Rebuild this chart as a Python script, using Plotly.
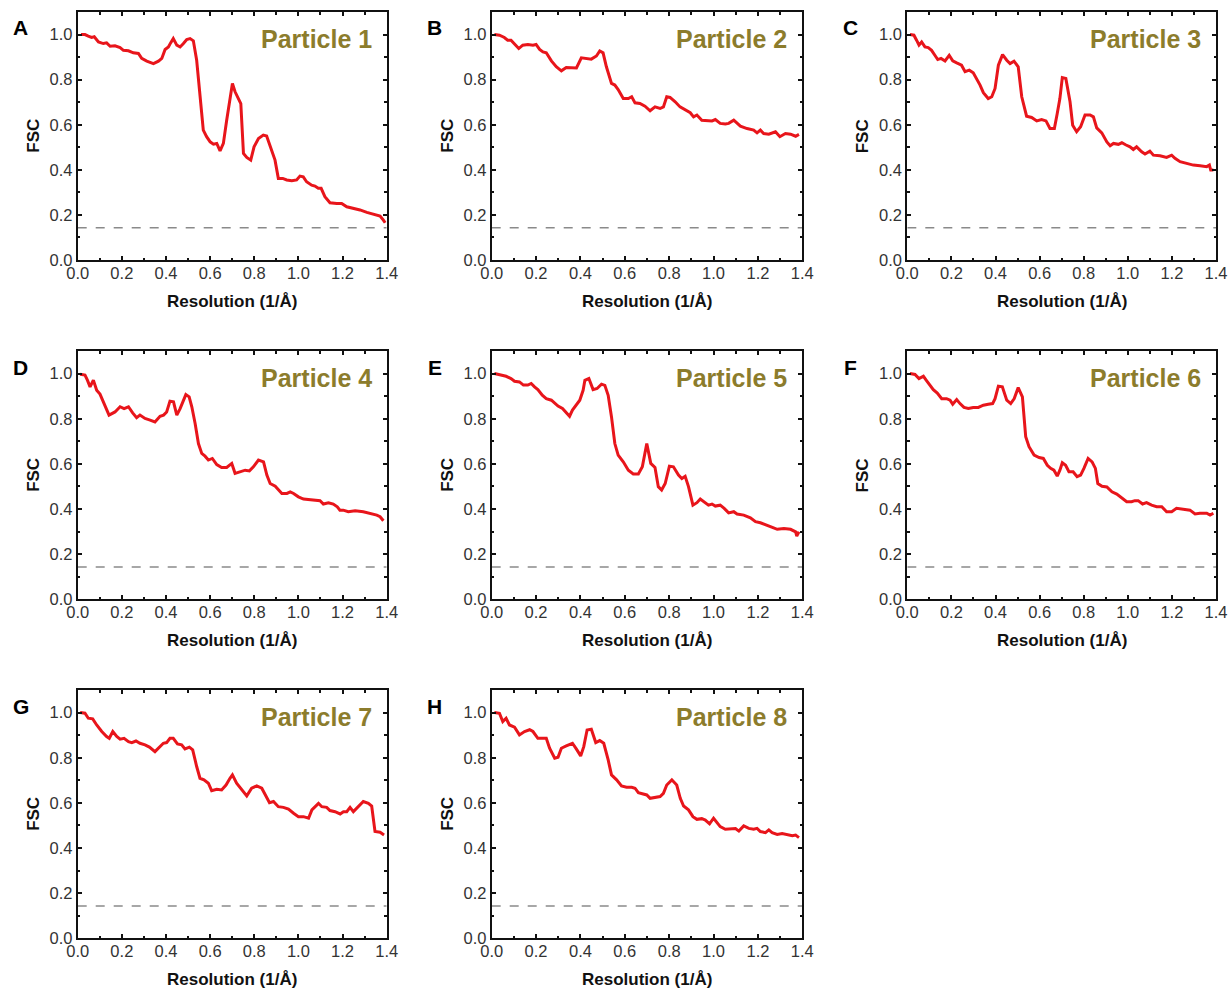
import plotly.graph_objects as go

W, H = 1230, 989

panel_letters = ["A", "B", "C", "D", "E", "F", "G", "H"]
panel_titles = ["Particle 1", "Particle 2", "Particle 3", "Particle 4",
                "Particle 5", "Particle 6", "Particle 7", "Particle 8"]
threshold = 0.143
x_ticks = [0.0, 0.2, 0.4, 0.6, 0.8, 1.0, 1.2, 1.4]
y_ticks = [0.0, 0.2, 0.4, 0.6, 0.8, 1.0]

p1_x = [0.015, 0.033, 0.048, 0.063, 0.075, 0.094, 0.116, 0.131, 0.147, 0.169, 0.192, 0.207, 0.23, 0.252, 0.275, 0.29, 0.313, 0.343, 0.366, 0.381, 0.396, 0.411, 0.421, 0.433, 0.449, 0.464, 0.479, 0.494, 0.509, 0.524, 0.539, 0.554, 0.569, 0.584, 0.6, 0.615, 0.63, 0.645, 0.66, 0.675, 0.69, 0.701, 0.713, 0.728, 0.739, 0.751, 0.766, 0.784, 0.799, 0.819, 0.841, 0.856, 0.874, 0.894, 0.909, 0.929, 0.947, 0.97, 0.992, 1.007, 1.022, 1.037, 1.06, 1.075, 1.09, 1.103, 1.12, 1.143, 1.174, 1.196, 1.219, 1.249, 1.279, 1.31, 1.34, 1.37, 1.385, 1.393]
p1_y = [1.0, 1.0, 0.993, 0.987, 0.99, 0.967, 0.96, 0.963, 0.948, 0.95, 0.942, 0.93, 0.928, 0.919, 0.916, 0.894, 0.882, 0.871, 0.882, 0.894, 0.934, 0.945, 0.963, 0.982, 0.953, 0.945, 0.96, 0.978, 0.982, 0.972, 0.886, 0.739, 0.576, 0.547, 0.524, 0.514, 0.517, 0.484, 0.517, 0.62, 0.709, 0.783, 0.746, 0.716, 0.694, 0.473, 0.455, 0.443, 0.502, 0.539, 0.554, 0.55, 0.502, 0.443, 0.362, 0.362, 0.355, 0.352, 0.355, 0.372, 0.369, 0.347, 0.332, 0.328, 0.318, 0.318, 0.281, 0.254, 0.251, 0.251, 0.236, 0.229, 0.222, 0.211, 0.202, 0.195, 0.177, 0.165]

p2_x = [0.012, 0.035, 0.057, 0.072, 0.087, 0.103, 0.122, 0.14, 0.163, 0.186, 0.2, 0.216, 0.231, 0.246, 0.269, 0.291, 0.314, 0.336, 0.359, 0.382, 0.404, 0.427, 0.449, 0.472, 0.487, 0.502, 0.517, 0.54, 0.555, 0.57, 0.593, 0.616, 0.631, 0.646, 0.668, 0.691, 0.714, 0.736, 0.759, 0.774, 0.789, 0.804, 0.827, 0.849, 0.872, 0.895, 0.91, 0.925, 0.947, 0.97, 0.993, 1.008, 1.03, 1.053, 1.068, 1.091, 1.106, 1.121, 1.151, 1.181, 1.196, 1.211, 1.226, 1.249, 1.279, 1.299, 1.324, 1.347, 1.37, 1.385]
p2_y = [1.0, 0.997, 0.987, 0.975, 0.975, 0.96, 0.938, 0.953, 0.956, 0.953, 0.956, 0.934, 0.923, 0.919, 0.883, 0.857, 0.839, 0.854, 0.854, 0.852, 0.897, 0.894, 0.891, 0.905, 0.927, 0.919, 0.857, 0.783, 0.776, 0.756, 0.716, 0.716, 0.724, 0.697, 0.694, 0.682, 0.662, 0.679, 0.672, 0.679, 0.724, 0.721, 0.702, 0.679, 0.665, 0.653, 0.635, 0.643, 0.62, 0.62, 0.617, 0.623, 0.606, 0.603, 0.606, 0.62, 0.609, 0.594, 0.583, 0.576, 0.564, 0.576, 0.561, 0.558, 0.569, 0.547, 0.561, 0.558, 0.549, 0.557]

p3_x = [0.012, 0.03, 0.042, 0.053, 0.065, 0.08, 0.095, 0.11, 0.125, 0.138, 0.153, 0.171, 0.19, 0.206, 0.224, 0.246, 0.262, 0.281, 0.299, 0.314, 0.33, 0.345, 0.367, 0.383, 0.398, 0.413, 0.432, 0.451, 0.466, 0.484, 0.503, 0.519, 0.541, 0.564, 0.587, 0.609, 0.629, 0.647, 0.667, 0.68, 0.692, 0.703, 0.719, 0.738, 0.75, 0.768, 0.786, 0.806, 0.829, 0.844, 0.859, 0.882, 0.905, 0.92, 0.935, 0.957, 0.973, 0.992, 1.01, 1.025, 1.04, 1.063, 1.078, 1.1, 1.116, 1.146, 1.176, 1.199, 1.214, 1.237, 1.267, 1.297, 1.328, 1.358, 1.37, 1.376, 1.388]
p3_y = [1.0, 0.997, 0.975, 0.953, 0.967, 0.945, 0.942, 0.93, 0.908, 0.889, 0.894, 0.883, 0.908, 0.883, 0.874, 0.864, 0.835, 0.842, 0.83, 0.805, 0.776, 0.742, 0.716, 0.724, 0.761, 0.864, 0.911, 0.886, 0.871, 0.882, 0.857, 0.724, 0.638, 0.632, 0.617, 0.623, 0.617, 0.583, 0.583, 0.65, 0.716, 0.809, 0.805, 0.702, 0.598, 0.569, 0.591, 0.643, 0.643, 0.635, 0.586, 0.564, 0.524, 0.507, 0.517, 0.513, 0.52, 0.51, 0.502, 0.49, 0.502, 0.48, 0.47, 0.483, 0.465, 0.462, 0.455, 0.465, 0.451, 0.436, 0.428, 0.421, 0.418, 0.414, 0.421, 0.399, 0.399]

p4_x = [0.011, 0.033, 0.044, 0.056, 0.071, 0.086, 0.101, 0.116, 0.142, 0.169, 0.192, 0.21, 0.23, 0.249, 0.267, 0.282, 0.305, 0.328, 0.35, 0.373, 0.389, 0.403, 0.418, 0.434, 0.449, 0.464, 0.479, 0.49, 0.505, 0.517, 0.532, 0.547, 0.562, 0.577, 0.592, 0.61, 0.63, 0.652, 0.675, 0.698, 0.713, 0.736, 0.759, 0.778, 0.796, 0.819, 0.842, 0.857, 0.872, 0.895, 0.91, 0.925, 0.948, 0.963, 0.978, 1.0, 1.023, 1.053, 1.075, 1.098, 1.113, 1.136, 1.158, 1.176, 1.188, 1.203, 1.226, 1.257, 1.294, 1.325, 1.355, 1.37, 1.385]
p4_y = [0.997, 0.993, 0.971, 0.941, 0.971, 0.926, 0.909, 0.875, 0.816, 0.83, 0.853, 0.845, 0.853, 0.826, 0.805, 0.816, 0.801, 0.794, 0.786, 0.811, 0.816, 0.83, 0.878, 0.875, 0.816, 0.845, 0.882, 0.907, 0.897, 0.853, 0.779, 0.69, 0.646, 0.634, 0.617, 0.624, 0.597, 0.584, 0.584, 0.602, 0.558, 0.565, 0.572, 0.569, 0.587, 0.617, 0.609, 0.55, 0.513, 0.501, 0.487, 0.469, 0.469, 0.476, 0.469, 0.454, 0.444, 0.442, 0.44, 0.437, 0.422, 0.428, 0.422, 0.41, 0.395, 0.395, 0.388, 0.392, 0.388, 0.381, 0.373, 0.366, 0.348]

p5_x = [0.012, 0.035, 0.065, 0.087, 0.103, 0.125, 0.143, 0.163, 0.178, 0.193, 0.208, 0.228, 0.246, 0.269, 0.284, 0.299, 0.319, 0.333, 0.351, 0.364, 0.382, 0.397, 0.412, 0.42, 0.438, 0.457, 0.475, 0.495, 0.51, 0.525, 0.54, 0.555, 0.57, 0.593, 0.616, 0.638, 0.661, 0.679, 0.699, 0.717, 0.736, 0.751, 0.766, 0.782, 0.801, 0.819, 0.842, 0.857, 0.872, 0.887, 0.907, 0.925, 0.94, 0.958, 0.977, 0.993, 1.008, 1.03, 1.048, 1.068, 1.091, 1.106, 1.136, 1.166, 1.189, 1.211, 1.234, 1.265, 1.287, 1.317, 1.347, 1.37, 1.375, 1.385]
p5_y = [1.0, 0.996, 0.988, 0.978, 0.966, 0.963, 0.949, 0.949, 0.956, 0.941, 0.929, 0.904, 0.889, 0.882, 0.867, 0.856, 0.845, 0.83, 0.811, 0.838, 0.86, 0.882, 0.926, 0.97, 0.978, 0.929, 0.934, 0.953, 0.948, 0.904, 0.808, 0.69, 0.639, 0.609, 0.572, 0.555, 0.555, 0.587, 0.69, 0.602, 0.584, 0.499, 0.484, 0.513, 0.59, 0.587, 0.55, 0.535, 0.545, 0.499, 0.417, 0.428, 0.444, 0.432, 0.417, 0.422, 0.413, 0.417, 0.403, 0.383, 0.388, 0.378, 0.373, 0.361, 0.344, 0.339, 0.329, 0.319, 0.31, 0.314, 0.31, 0.299, 0.28, 0.299]

p6_x = [0.012, 0.035, 0.053, 0.073, 0.088, 0.103, 0.118, 0.136, 0.156, 0.178, 0.194, 0.206, 0.224, 0.239, 0.257, 0.277, 0.299, 0.322, 0.345, 0.367, 0.387, 0.398, 0.413, 0.431, 0.451, 0.469, 0.485, 0.503, 0.522, 0.537, 0.552, 0.575, 0.598, 0.617, 0.635, 0.65, 0.665, 0.68, 0.692, 0.703, 0.718, 0.733, 0.752, 0.77, 0.786, 0.801, 0.82, 0.838, 0.853, 0.864, 0.883, 0.905, 0.928, 0.95, 0.973, 0.995, 1.017, 1.032, 1.047, 1.067, 1.085, 1.108, 1.131, 1.154, 1.176, 1.199, 1.221, 1.244, 1.259, 1.282, 1.305, 1.327, 1.358, 1.373, 1.388]
p6_y = [1.0, 0.996, 0.978, 0.988, 0.968, 0.948, 0.929, 0.914, 0.889, 0.889, 0.882, 0.864, 0.885, 0.867, 0.85, 0.845, 0.85, 0.85, 0.86, 0.864, 0.867, 0.889, 0.944, 0.941, 0.882, 0.867, 0.889, 0.938, 0.897, 0.72, 0.676, 0.639, 0.628, 0.624, 0.594, 0.58, 0.572, 0.546, 0.572, 0.605, 0.594, 0.565, 0.565, 0.543, 0.55, 0.58, 0.624, 0.609, 0.58, 0.513, 0.501, 0.498, 0.476, 0.466, 0.45, 0.432, 0.432, 0.437, 0.437, 0.422, 0.428, 0.417, 0.41, 0.41, 0.388, 0.388, 0.403, 0.4, 0.395, 0.395, 0.378, 0.381, 0.381, 0.373, 0.381]

p7_x = [0.011, 0.033, 0.048, 0.068, 0.086, 0.109, 0.131, 0.143, 0.159, 0.177, 0.192, 0.21, 0.23, 0.245, 0.264, 0.282, 0.305, 0.325, 0.35, 0.37, 0.388, 0.403, 0.418, 0.433, 0.452, 0.471, 0.486, 0.506, 0.521, 0.539, 0.554, 0.572, 0.592, 0.607, 0.63, 0.652, 0.672, 0.69, 0.701, 0.72, 0.743, 0.766, 0.788, 0.811, 0.834, 0.849, 0.869, 0.887, 0.909, 0.932, 0.955, 0.978, 1.0, 1.023, 1.046, 1.061, 1.076, 1.091, 1.106, 1.128, 1.143, 1.166, 1.189, 1.204, 1.219, 1.234, 1.249, 1.272, 1.294, 1.317, 1.332, 1.347, 1.37, 1.388]
p7_y = [1.0, 0.997, 0.975, 0.972, 0.945, 0.916, 0.894, 0.886, 0.916, 0.894, 0.882, 0.886, 0.871, 0.867, 0.874, 0.864, 0.857, 0.847, 0.827, 0.847, 0.864, 0.867, 0.886, 0.886, 0.861, 0.857, 0.839, 0.847, 0.835, 0.761, 0.709, 0.702, 0.687, 0.654, 0.66, 0.657, 0.679, 0.709, 0.724, 0.687, 0.657, 0.631, 0.665, 0.675, 0.665, 0.635, 0.601, 0.606, 0.583, 0.58, 0.572, 0.554, 0.539, 0.539, 0.532, 0.569, 0.583, 0.598, 0.583, 0.58, 0.566, 0.561, 0.551, 0.561, 0.561, 0.58, 0.561, 0.583, 0.606, 0.598, 0.586, 0.473, 0.47, 0.458]

p8_x = [0.012, 0.035, 0.05, 0.065, 0.08, 0.103, 0.125, 0.148, 0.171, 0.186, 0.208, 0.223, 0.246, 0.261, 0.284, 0.299, 0.314, 0.336, 0.364, 0.382, 0.401, 0.415, 0.43, 0.449, 0.469, 0.487, 0.505, 0.525, 0.54, 0.563, 0.585, 0.608, 0.631, 0.646, 0.661, 0.683, 0.699, 0.714, 0.736, 0.759, 0.774, 0.789, 0.812, 0.834, 0.85, 0.865, 0.887, 0.907, 0.925, 0.947, 0.963, 0.982, 1.0, 1.015, 1.03, 1.053, 1.076, 1.099, 1.114, 1.136, 1.159, 1.181, 1.196, 1.211, 1.234, 1.249, 1.264, 1.287, 1.309, 1.332, 1.355, 1.37, 1.385]
p8_y = [1.0, 0.997, 0.96, 0.975, 0.945, 0.935, 0.901, 0.916, 0.924, 0.916, 0.886, 0.886, 0.886, 0.842, 0.798, 0.802, 0.842, 0.852, 0.864, 0.838, 0.808, 0.849, 0.923, 0.926, 0.867, 0.876, 0.864, 0.79, 0.724, 0.702, 0.675, 0.669, 0.669, 0.665, 0.645, 0.639, 0.635, 0.62, 0.623, 0.628, 0.642, 0.679, 0.702, 0.679, 0.62, 0.586, 0.569, 0.539, 0.527, 0.53, 0.524, 0.507, 0.532, 0.513, 0.495, 0.483, 0.483, 0.486, 0.475, 0.498, 0.487, 0.483, 0.487, 0.473, 0.468, 0.48, 0.468, 0.46, 0.464, 0.458, 0.454, 0.457, 0.446]

series_x = [p1_x, p2_x, p3_x, p4_x, p5_x, p6_x, p7_x, p8_x]
series_y = [p1_y, p2_y, p3_y, p4_y, p5_y, p6_y, p7_y, p8_y]

# plot frame boxes in pixels
col_px = [(77.7, 386.7), (491.7, 802.3), (907.3, 1216.0)]
row_px = [(12.0, 260.0), (351.0, 599.3), (690.0, 938.3)]

fig = go.Figure()
annotations = []
font_family = "Liberation Sans, Arial, sans-serif"
RED = "#E8151B"
OLIVE = "#8C7C2C"

for i in range(8):
    r, c = divmod(i, 3)
    x0, x1 = col_px[c]
    y0, y1 = row_px[r]
    xa = "xaxis" if i == 0 else f"xaxis{i+1}"
    ya = "yaxis" if i == 0 else f"yaxis{i+1}"
    xref = "x" if i == 0 else f"x{i+1}"
    yref = "y" if i == 0 else f"y{i+1}"
    dom_x = [x0 / W, x1 / W]
    dom_y = [1 - y1 / H, 1 - y0 / H]

    fig.add_trace(go.Scatter(
        x=[0, 1.4], y=[threshold, threshold], mode="lines",
        line=dict(color="#8a8a8a", width=1.3, dash="dash"),
        xaxis=xref, yaxis=yref, showlegend=False, hoverinfo="skip"))
    fig.add_trace(go.Scatter(
        x=series_x[i], y=series_y[i], mode="lines",
        line=dict(color=RED, width=3),
        xaxis=xref, yaxis=yref, showlegend=False, name=panel_titles[i]))

    common = dict(showline=True, linecolor="#111111", linewidth=2, mirror="ticks",
                  ticks="inside", ticklen=4, tickwidth=1.5, tickcolor="#111111",
                  showgrid=False, zeroline=False, automargin=False,
                  tickfont=dict(family=font_family, size=16.5, color="#333333"),
                  tickformat=".1f",
                  minor=dict(ticks="inside", ticklen=2.5, tickwidth=1.5,
                             tickcolor="#111111", dtick=0.1, showgrid=False))
    fig.update_layout(**{
        xa: dict(domain=dom_x, range=[0, 1.4], tickvals=x_ticks,
                 anchor=yref, ticklabelstandoff=-3, **common),
        ya: dict(domain=dom_y, range=[0, 1.1], tickvals=y_ticks,
                 anchor=xref, **common),
    })

    # axis titles
    annotations.append(dict(text="<b>Resolution (1/Å)</b>", x=(x0 + x1) / 2 / W,
                            y=1 - (y1 + 41) / H, xref="paper", yref="paper",
                            showarrow=False, xanchor="center", yanchor="middle",
                            font=dict(family=font_family, size=17, color="#111111")))
    annotations.append(dict(text="<b>FSC</b>", x=(x0 - 45) / W,
                            y=1 - (y0 + y1) / 2 / H, xref="paper", yref="paper",
                            showarrow=False, textangle=-90, xanchor="center",
                            yanchor="middle",
                            font=dict(family=font_family, size=17, color="#111111")))
    # panel letter
    annotations.append(dict(text=f"<b>{panel_letters[i]}</b>", x=(x0 - 57) / W,
                            y=1 - (y0 + 16) / H, xref="paper", yref="paper",
                            showarrow=False, xanchor="center", yanchor="middle",
                            font=dict(family=font_family, size=21, color="#000000")))
    # particle title
    annotations.append(dict(text=f"<b>{panel_titles[i]}</b>", x=(x1 - 13) / W,
                            y=1 - (y0 + 27) / H, xref="paper", yref="paper",
                            showarrow=False, xanchor="right", yanchor="middle",
                            font=dict(family=font_family, size=25, color=OLIVE)))

fig.update_layout(width=W, height=H, margin=dict(l=0, r=0, t=0, b=0),
                  plot_bgcolor="white", paper_bgcolor="white",
                  annotations=annotations, showlegend=False)

fig.write_html("out.html")
